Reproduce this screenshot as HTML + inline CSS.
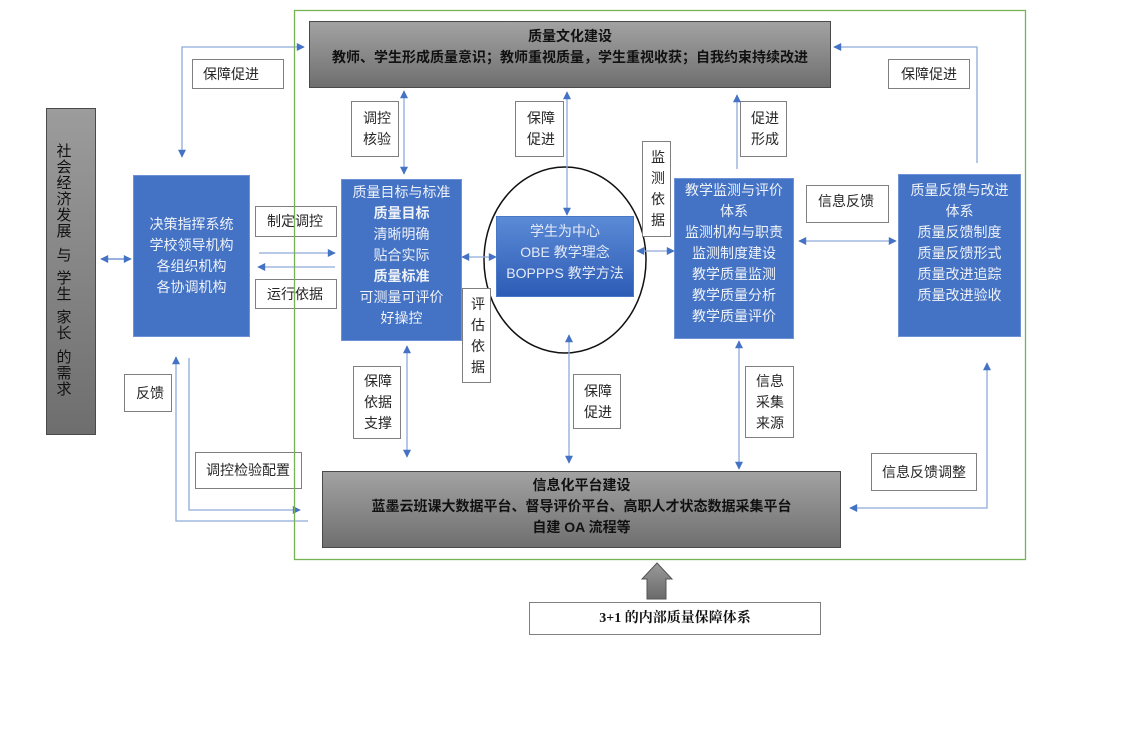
<!DOCTYPE html>
<html><head><meta charset="utf-8">
<style>
html,body{margin:0;padding:0;background:#fff;}
#c{position:relative;width:1122px;height:751px;overflow:hidden;background:#fff;font-family:"Liberation Sans","Noto Sans CJK SC",sans-serif;}
.abs{position:absolute;}
.blue{position:absolute;background:#4472c4;border:1px solid #6d93d6;box-sizing:border-box;}
.bt{position:absolute;color:#eef2f9;font-size:14px;line-height:21px;text-align:center;white-space:nowrap;}
.gray{position:absolute;background:linear-gradient(#a2a2a2,#6f6f6f);border:1px solid #4a4a4a;box-sizing:border-box;}
.gt{position:absolute;color:#111;font-size:14px;line-height:21px;text-align:center;font-weight:bold;white-space:nowrap;}
.lb{position:absolute;background:#fff;border:1px solid #7f7f7f;box-sizing:border-box;display:flex;align-items:center;padding-left:10px;font-size:14px;line-height:21px;color:#262626;white-space:nowrap;}
.ch{position:absolute;width:16px;text-align:center;font-size:15px;line-height:16px;color:#111;}
svg{position:absolute;left:0;top:0;}
</style></head>
<body><div id="c">

<!-- ellipse (under boxes) -->
<svg width="1122" height="751" style="z-index:1">
<ellipse cx="565" cy="260" rx="81" ry="93" fill="none" stroke="#111" stroke-width="1.5"/>
</svg>

<div style="position:absolute;left:0;top:0;width:1122px;height:751px;z-index:2">

<!-- left society box -->
<div class="gray" style="left:46px;top:108px;width:50px;height:327px;background:linear-gradient(#9c9c9c,#6e6e6e);"></div>
<div class="ch" style="left:56px;top:144px">社</div>
<div class="ch" style="left:56px;top:160px">会</div>
<div class="ch" style="left:56px;top:176px">经</div>
<div class="ch" style="left:56px;top:192px">济</div>
<div class="ch" style="left:56px;top:208px">发</div>
<div class="ch" style="left:56px;top:224px">展</div>
<div class="ch" style="left:56px;top:248px">与</div>
<div class="ch" style="left:56px;top:271px">学</div>
<div class="ch" style="left:56px;top:287px">生</div>
<div class="ch" style="left:56px;top:310px">家</div>
<div class="ch" style="left:56px;top:326px">长</div>
<div class="ch" style="left:56px;top:350px">的</div>
<div class="ch" style="left:56px;top:366px">需</div>
<div class="ch" style="left:56px;top:382px">求</div>

<!-- top gray box -->
<div class="gray" style="left:309px;top:21px;width:522px;height:67px;"></div>
<div class="gt" style="left:309px;top:26px;width:522px;">质量文化建设<br>教师、学生形成质量意识；教师重视质量，学生重视收获；自我约束持续改进</div>

<!-- bottom gray box -->
<div class="gray" style="left:322px;top:471px;width:519px;height:77px;"></div>
<div class="gt" style="left:322px;top:475px;width:519px;">信息化平台建设<br>蓝墨云班课大数据平台、督导评价平台、高职人才状态数据采集平台<br>自建 OA 流程等</div>

<!-- blue boxes -->
<div class="blue" style="left:133px;top:175px;width:117px;height:162px;"></div>
<div class="bt" style="left:133px;top:214px;width:117px;">决策指挥系统<br>学校领导机构<br>各组织机构<br>各协调机构</div>

<div class="blue" style="left:341px;top:179px;width:121px;height:162px;"></div>
<div class="bt" style="left:341px;top:182px;width:121px;">质量目标与标准<br><b>质量目标</b><br>清晰明确<br>贴合实际<br><b>质量标准</b><br>可测量可评价<br>好操控</div>

<div class="blue" style="left:496px;top:216px;width:138px;height:81px;background:linear-gradient(#5b8ad6,#2d5cb6);border-color:#4a78c8;"></div>
<div class="bt" style="left:496px;top:221px;width:138px;color:#e3eaf6;">学生为中心<br>OBE 教学理念<br>BOPPPS 教学方法</div>

<div class="blue" style="left:674px;top:178px;width:120px;height:161px;"></div>
<div class="bt" style="left:674px;top:180px;width:120px;">教学监测与评价<br>体系<br>监测机构与职责<br>监测制度建设<br>教学质量监测<br>教学质量分析<br>教学质量评价</div>

<div class="blue" style="left:898px;top:174px;width:123px;height:163px;"></div>
<div class="bt" style="left:898px;top:180px;width:123px;">质量反馈与改进<br>体系<br>质量反馈制度<br>质量反馈形式<br>质量改进追踪<br>质量改进验收</div>

<!-- label boxes -->
<div class="lb" style="left:192px;top:59px;width:92px;height:30px;">保障促进</div>
<div class="lb" style="left:255px;top:206px;width:82px;height:31px;padding-left:11px;">制定调控</div>
<div class="lb" style="left:255px;top:279px;width:82px;height:30px;padding-left:11px;">运行依据</div>
<div class="lb" style="left:351px;top:101px;width:48px;height:56px;padding-left:11px;">调控<br>核验</div>
<div class="lb" style="left:515px;top:101px;width:49px;height:56px;padding-left:11px;">保障<br>促进</div>
<div class="lb" style="left:642px;top:141px;width:29px;height:96px;padding-left:8px;">监<br>测<br>依<br>据</div>
<div class="lb" style="left:740px;top:101px;width:47px;height:56px;padding-left:10px;">促进<br>形成</div>
<div class="lb" style="left:888px;top:59px;width:82px;height:30px;padding-left:12px;">保障促进</div>
<div class="lb" style="left:806px;top:185px;width:83px;height:38px;padding-left:11px;align-items:flex-start;padding-top:5px;">信息反馈</div>
<div class="lb" style="left:462px;top:288px;width:29px;height:95px;padding-left:8px;">评<br>估<br>依<br>据</div>
<div class="lb" style="left:353px;top:366px;width:48px;height:73px;padding-left:10px;">保障<br>依据<br>支撑</div>
<div class="lb" style="left:573px;top:374px;width:48px;height:55px;padding-left:10px;">保障<br>促进</div>
<div class="lb" style="left:745px;top:366px;width:49px;height:72px;padding-left:10px;">信息<br>采集<br>来源</div>
<div class="lb" style="left:124px;top:374px;width:48px;height:38px;padding-left:11px;">反馈</div>
<div class="lb" style="left:195px;top:452px;width:107px;height:37px;">调控检验配置</div>
<div class="lb" style="left:871px;top:453px;width:106px;height:38px;">信息反馈调整</div>

<!-- 3+1 box -->
<div class="lb" style="left:529px;top:602px;width:292px;height:33px;padding-left:0;justify-content:center;font-family:'Liberation Serif','Noto Serif CJK SC',serif;font-weight:bold;font-size:14px;color:#111;">3+1 的内部质量保障体系</div>
</div>

<!-- connectors & frame -->
<svg width="1122" height="751" style="z-index:3">
<defs>
<marker id="a" viewBox="0 0 10 10" refX="9" refY="5" markerWidth="9" markerHeight="8" markerUnits="userSpaceOnUse" orient="auto-start-reverse">
<path d="M0,0 L10,5 L0,10 z" fill="#4472c4"/>
</marker>
<linearGradient id="ga" x1="0" y1="0" x2="0" y2="1"><stop offset="0" stop-color="#9a9a9a"/><stop offset="1" stop-color="#6a6a6a"/></linearGradient>
</defs>
<g fill="none" stroke="#8eaadb" stroke-width="1.3">
<line x1="101" y1="259" x2="131" y2="259" stroke="#5b82cc" marker-start="url(#a)" marker-end="url(#a)"/>
<polyline points="182,157 182,47 304,47" marker-start="url(#a)" marker-end="url(#a)"/>
<line x1="259" y1="253" x2="335" y2="253" marker-end="url(#a)"/>
<line x1="335" y1="267" x2="258" y2="267" marker-end="url(#a)"/>
<line x1="404" y1="91" x2="404" y2="174" marker-start="url(#a)" marker-end="url(#a)"/>
<line x1="567" y1="92" x2="567" y2="215" marker-start="url(#a)" marker-end="url(#a)"/>
<line x1="462" y1="257" x2="496" y2="257" marker-start="url(#a)" marker-end="url(#a)"/>
<line x1="637" y1="251" x2="674" y2="251" marker-start="url(#a)" marker-end="url(#a)"/>
<line x1="737" y1="169" x2="737" y2="95" marker-end="url(#a)"/>
<polyline points="977,163 977,47 834,47" marker-end="url(#a)"/>
<line x1="799" y1="241" x2="896" y2="241" marker-start="url(#a)" marker-end="url(#a)"/>
<line x1="407" y1="346" x2="407" y2="457" marker-start="url(#a)" marker-end="url(#a)"/>
<line x1="569" y1="335" x2="569" y2="463" marker-start="url(#a)" marker-end="url(#a)"/>
<line x1="739" y1="341" x2="739" y2="469" marker-start="url(#a)" marker-end="url(#a)"/>
<polyline points="987,363 987,508 850,508" marker-start="url(#a)" marker-end="url(#a)"/>
<polyline points="176,357 176,521 308,521" marker-start="url(#a)"/>
<polyline points="189,358 189,510 300,510" marker-end="url(#a)"/>
</g>
<rect x="294.5" y="10.5" width="731" height="549" fill="none" stroke="#77b255" stroke-width="1.3"/>
<polygon points="657,563 672,579 666,579 666,599 647,599 647,579 642,579" fill="url(#ga)" stroke="#555" stroke-width="1"/>
</svg>

</div></body></html>
